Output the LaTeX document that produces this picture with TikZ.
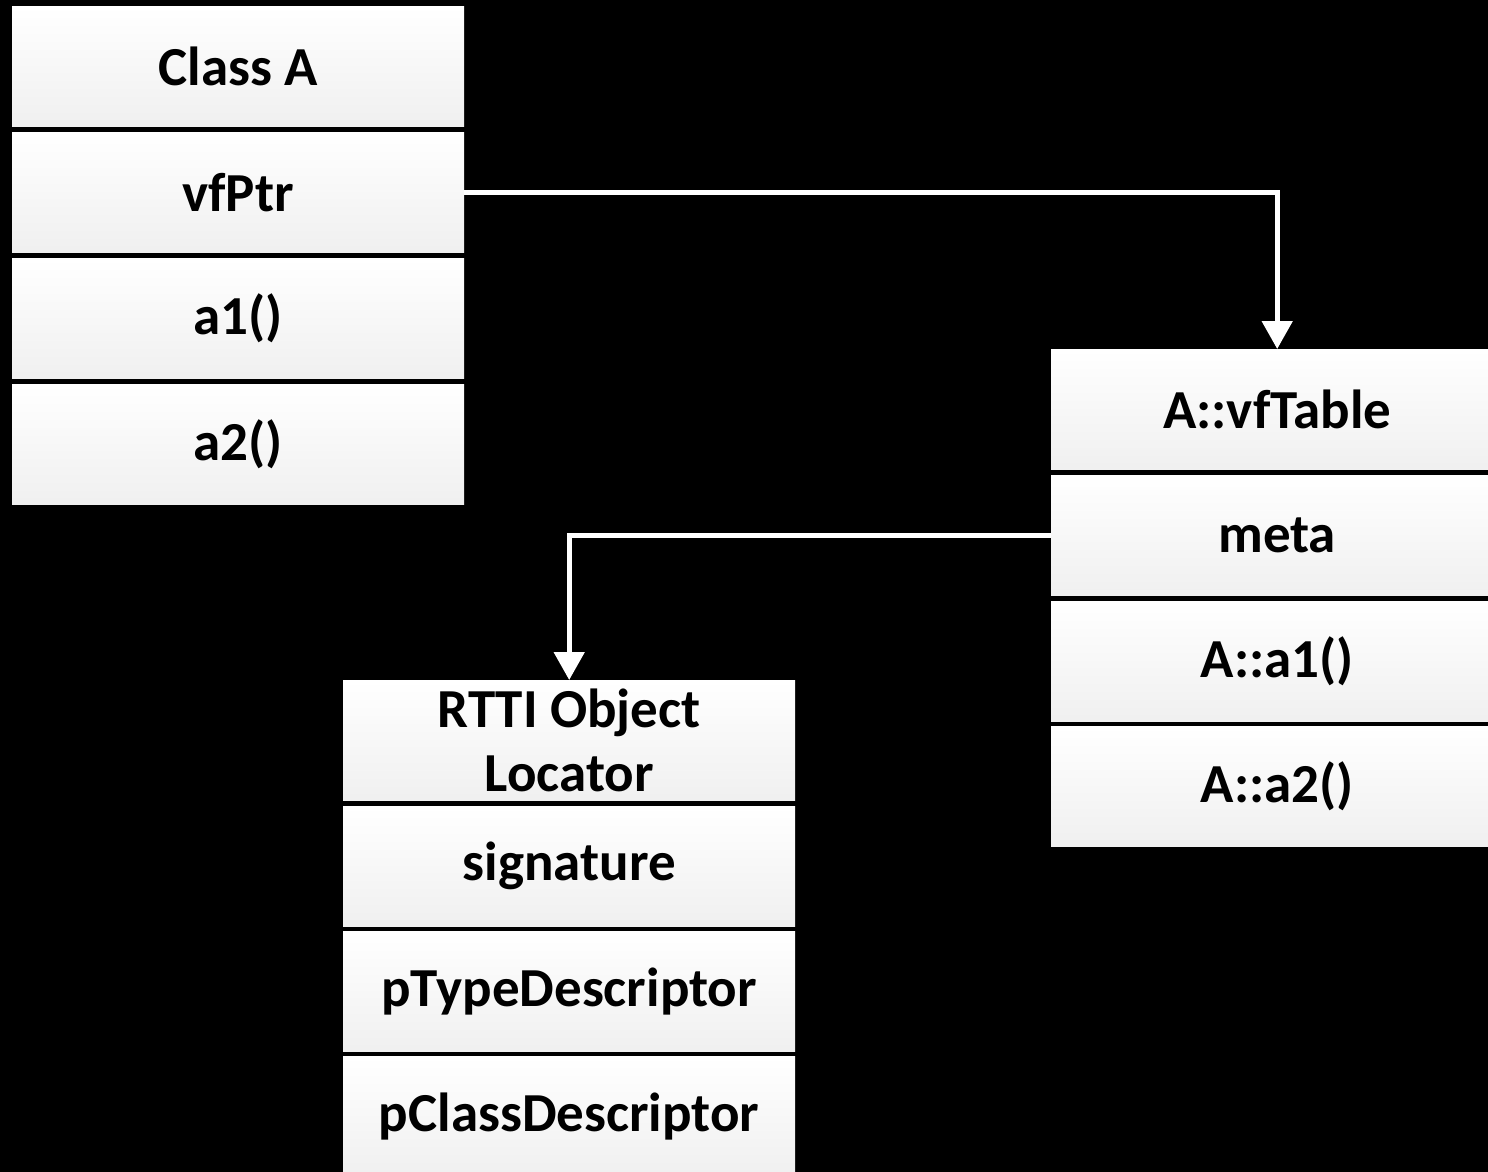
\documentclass[tikz,border=0pt]{standalone}
\usepackage{fontspec}
\setmainfont{Carlito}
\usetikzlibrary{arrows.meta}
\tikzset{
  cell/.style={rectangle, draw=none, top color=white, bottom color=black!6,
    minimum height=120pt, minimum width=452pt, inner sep=0pt, anchor=north west,
    font=\fontsize{55}{64}\selectfont\bfseries, text=black, align=center},
  link/.style={draw=white, line width=5pt, -{Triangle[width=30pt,length=28pt]}}
}
\begin{document}
\begin{tikzpicture}[x=1pt,y=-1pt]
\fill[black] (0,0) rectangle (1488,1172);
\useasboundingbox (0,0) rectangle (1488,1172);
\clip (0,0) rectangle (1488,1172);
% Class A
\node[cell] (ca) at (12,6) {Class A};
\node[cell] (vfptr) at (12,132) {vfPtr};
\node[cell] (a1) at (12,258) {a1()};
\node[cell] (a2) at (12,384) {a2()};
% vfTable
\node[cell] (vt) at (1051,349) {A::vfTable};
\node[cell] (meta) at (1051,475) {meta};
\node[cell] (aa1) at (1051,601) {A::a1()};
\node[cell] (aa2) at (1051,726) {A::a2()};
% RTTI
\node[cell] (rtti) at (343,680) {RTTI Object\\Locator};
\node[cell] (sig) at (343,806) {signature};
\node[cell] (ptd) at (343,931) {pTypeDescriptor};
\node[cell] (pcd) at (343,1056) {pClassDescriptor};
% connectors
\draw[link] (vfptr.east) -| (vt.north);
\draw[link] (meta.west) -| (rtti.north);
\end{tikzpicture}
\end{document}
